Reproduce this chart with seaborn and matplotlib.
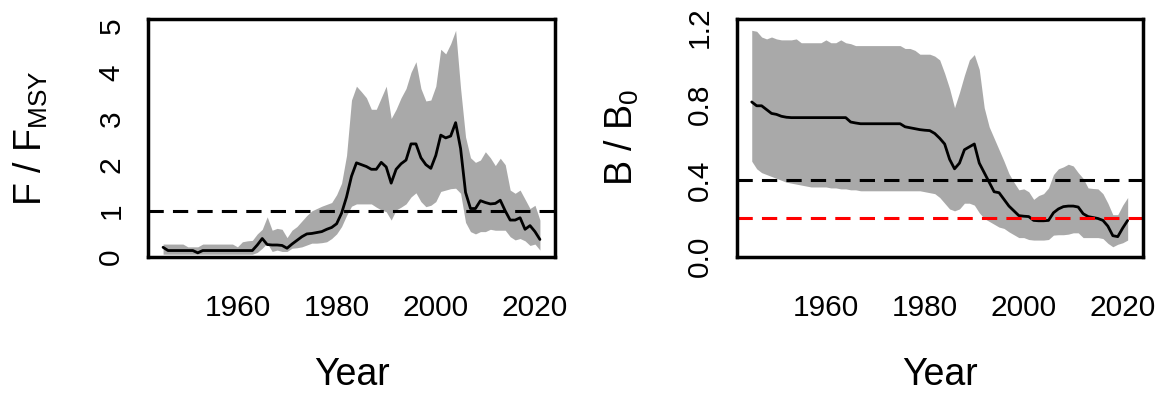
import numpy as np
import pandas as pd
import matplotlib
matplotlib.use("Agg")
import matplotlib.pyplot as plt
import seaborn as sns

# ---------------- data ----------------
years = list(range(1945, 2022))

f_median = [0.21, 0.14, 0.14, 0.14, 0.14, 0.14, 0.14, 0.09, 0.14, 0.14,
            0.14, 0.14, 0.14, 0.14, 0.14, 0.14, 0.14, 0.14, 0.14, 0.26,
            0.40, 0.27, 0.26, 0.26, 0.25, 0.19, 0.28, 0.36, 0.44, 0.50,
            0.51, 0.53, 0.55, 0.60, 0.64, 0.72, 0.95, 1.30, 1.75, 2.04,
            2.00, 1.96, 1.90, 1.90, 2.05, 1.95, 1.60, 1.90, 2.02, 2.10,
            2.45, 2.45, 2.15, 2.00, 1.92, 2.20, 2.64, 2.58, 2.62, 2.91,
            2.35, 1.40, 1.05, 1.05, 1.22, 1.18, 1.15, 1.16, 1.23, 1.00,
            0.80, 0.80, 0.85, 0.60, 0.68, 0.55, 0.38]
f_upper = [0.28, 0.28, 0.28, 0.28, 0.28, 0.22, 0.22, 0.22, 0.28, 0.28,
           0.28, 0.28, 0.28, 0.28, 0.28, 0.22, 0.33, 0.35, 0.36, 0.50,
           0.60, 0.87, 0.58, 0.62, 0.60, 0.42, 0.58, 0.66, 0.78, 0.90,
           1.00, 1.05, 1.10, 1.14, 1.18, 1.35, 1.60, 2.20, 3.40, 3.70,
           3.58, 3.45, 3.20, 3.20, 3.45, 3.70, 3.00, 3.20, 3.45, 3.65,
           4.00, 4.23, 3.65, 3.38, 3.40, 3.70, 4.50, 4.40, 4.62, 4.91,
           3.65, 2.60, 2.15, 2.05, 2.10, 2.28, 2.15, 1.98, 2.14, 2.00,
           1.45, 1.38, 1.45, 1.25, 1.05, 1.12, 0.80]
f_lower = [0.06, 0.06, 0.06, 0.06, 0.06, 0.06, 0.06, 0.06, 0.06, 0.06,
           0.06, 0.06, 0.06, 0.06, 0.06, 0.06, 0.06, 0.06, 0.06, 0.10,
           0.19, 0.30, 0.12, 0.15, 0.12, 0.12, 0.19, 0.20, 0.22, 0.26,
           0.30, 0.30, 0.31, 0.33, 0.40, 0.50, 0.66, 0.90, 1.10, 1.15,
           1.15, 1.15, 1.15, 1.08, 1.02, 0.98, 0.80, 1.02, 1.08, 1.15,
           1.30, 1.39, 1.20, 1.09, 1.12, 1.20, 1.42, 1.45, 1.48, 1.49,
           1.38, 0.75, 0.55, 0.50, 0.55, 0.55, 0.60, 0.58, 0.58, 0.58,
           0.44, 0.37, 0.40, 0.35, 0.25, 0.28, 0.15]

b_median = [0.81, 0.79, 0.79, 0.77, 0.75, 0.745, 0.735, 0.73, 0.728, 0.728,
            0.728, 0.728, 0.728, 0.728, 0.728, 0.728, 0.728, 0.728, 0.728, 0.728,
            0.705, 0.70, 0.696, 0.696, 0.696, 0.696, 0.696, 0.696, 0.696, 0.696,
            0.696, 0.68, 0.675, 0.67, 0.665, 0.662, 0.66, 0.645, 0.62, 0.59,
            0.51, 0.46, 0.49, 0.56, 0.575, 0.59, 0.49, 0.44, 0.39, 0.34,
            0.335, 0.30, 0.265, 0.24, 0.215, 0.212, 0.21, 0.19, 0.188, 0.188,
            0.19, 0.23, 0.25, 0.262, 0.265, 0.265, 0.26, 0.225, 0.21, 0.205,
            0.20, 0.19, 0.16, 0.11, 0.105, 0.15, 0.19]
b_upper = [1.185, 1.18, 1.15, 1.14, 1.15, 1.14, 1.135, 1.135, 1.135, 1.14,
           1.12, 1.12, 1.12, 1.12, 1.12, 1.135, 1.12, 1.12, 1.135, 1.12,
           1.115, 1.105, 1.105, 1.105, 1.105, 1.105, 1.105, 1.105, 1.105, 1.105,
           1.105, 1.09, 1.09, 1.08, 1.06, 1.06, 1.06, 1.05, 1.03, 0.96,
           0.88, 0.78, 0.86, 0.95, 1.03, 1.058, 0.98, 0.78, 0.68, 0.62,
           0.56, 0.50, 0.435, 0.39, 0.35, 0.355, 0.34, 0.30, 0.32, 0.33,
           0.36, 0.43, 0.46, 0.47, 0.484, 0.475, 0.44, 0.41, 0.36, 0.357,
           0.355, 0.33, 0.28, 0.22, 0.22, 0.27, 0.31]
b_lower = [0.50, 0.46, 0.44, 0.43, 0.42, 0.41, 0.40, 0.39, 0.385, 0.38,
           0.375, 0.37, 0.365, 0.365, 0.365, 0.365, 0.36, 0.36, 0.355, 0.355,
           0.35, 0.35, 0.345, 0.345, 0.345, 0.345, 0.345, 0.345, 0.345, 0.345,
           0.345, 0.345, 0.345, 0.345, 0.345, 0.34, 0.335, 0.33, 0.31, 0.28,
           0.25, 0.24, 0.25, 0.28, 0.28, 0.27, 0.23, 0.20, 0.185, 0.17,
           0.155, 0.148, 0.13, 0.115, 0.10, 0.10, 0.09, 0.087, 0.087, 0.087,
           0.09, 0.113, 0.115, 0.115, 0.118, 0.125, 0.125, 0.10, 0.10, 0.10,
           0.10, 0.095, 0.07, 0.052, 0.065, 0.073, 0.087]

f_ref = [1.0]
b_refs = [0.4, 0.2]
b_ref_colors = ["#000000", "#FF0000"]
x_ticks = [1960, 1980, 2000, 2020]
f_yticks = [0, 1, 2, 3, 4, 5]
f_yticklabels = ["0", "1", "2", "3", "4", "5"]
b_yticks = [0.0, 0.2, 0.4, 0.6, 0.8, 1.0, 1.2]
b_yticklabels = ["0.0", "", "0.4", "", "0.8", "", "1.2"]

df_f = pd.DataFrame({"Year": years, "med": f_median, "lo": f_lower, "hi": f_upper})
df_b = pd.DataFrame({"Year": years, "med": b_median, "lo": b_lower, "hi": b_upper})

# ---------------- style ----------------
sns.set_style("white")
plt.rcParams["font.family"] = ["Liberation Sans", "DejaVu Sans"]
plt.rcParams["mathtext.fontset"] = "custom"
plt.rcParams["mathtext.rm"] = "Liberation Sans"
plt.rcParams["mathtext.it"] = "Liberation Sans"
plt.rcParams["text.color"] = "black"
plt.rcParams["axes.labelcolor"] = "black"

W, H = 1164, 394
fig = plt.figure(figsize=(W / 100, H / 100), dpi=100)
ax1 = fig.add_axes([148 / W, 1 - 257 / H, 407 / W, 238 / H])
ax2 = fig.add_axes([736.7 / W, 1 - 256.7 / H, 406 / W, 237.7 / H])

TICK_FS = 21.5
LAB_FS = 27
band_col = "#A9A9A9"
dash = (0, (5, 3))


def style_axes(ax, yticks, yticklabels, ylim):
    span = years[-1] - years[0]
    ax.set_xlim(years[0] - 0.04 * span, years[-1] + 0.04 * span)
    ax.set_ylim(*ylim)
    ax.set_xticks(x_ticks)
    ax.set_xticklabels([str(t) for t in x_ticks], fontsize=TICK_FS)
    ax.set_yticks(yticks)
    ax.set_yticklabels(yticklabels, fontsize=TICK_FS, rotation=90, va="center")
    for s in ax.spines.values():
        s.set_visible(True)
        s.set_color("black")
        s.set_linewidth(2.5)
    ax.tick_params(axis="both", direction="out", length=3.8, width=1.8,
                   color="black", labelcolor="black")
    ax.tick_params(axis="x", pad=23)
    ax.tick_params(axis="y", pad=12.5)
    ax.grid(False)


# ---- left panel: F / F_MSY ----
ax1.fill_between(df_f["Year"], df_f["lo"], df_f["hi"], color=band_col, linewidth=0)
sns.lineplot(data=df_f, x="Year", y="med", ax=ax1, color="black", linewidth=2.0)
for r in f_ref:
    ax1.axhline(r, color="black", linewidth=2.2, linestyle=dash)
style_axes(ax1, f_yticks, f_yticklabels, (0, 1.05 * max(f_upper)))
ax1.set_xlabel("Year", fontsize=LAB_FS, color="black")
ax1.set_ylabel(r"$\mathrm{F\ /\ F_{MSY}}$", fontsize=LAB_FS, color="black")

# ---- right panel: B / B0 ----
ax2.fill_between(df_b["Year"], df_b["lo"], df_b["hi"], color=band_col, linewidth=0)
sns.lineplot(data=df_b, x="Year", y="med", ax=ax2, color="black", linewidth=2.0)
for r, c in zip(b_refs, b_ref_colors):
    ax2.axhline(r, color=c, linewidth=2.2, linestyle=dash)
style_axes(ax2, b_yticks, b_yticklabels, (0, 1.05 * max(b_upper)))
ax2.set_xlabel("Year", fontsize=LAB_FS, color="black")
ax2.set_ylabel(r"$\mathrm{B\ /\ B_{0}}$", fontsize=LAB_FS, color="black")

ax1.xaxis.set_label_coords(0.5, -0.42)
ax2.xaxis.set_label_coords(0.5, -0.42)
ax1.yaxis.set_label_coords(-0.241, 0.5)
ax2.yaxis.set_label_coords(-0.236, 0.5)

fig.savefig("out.png", dpi=100)
